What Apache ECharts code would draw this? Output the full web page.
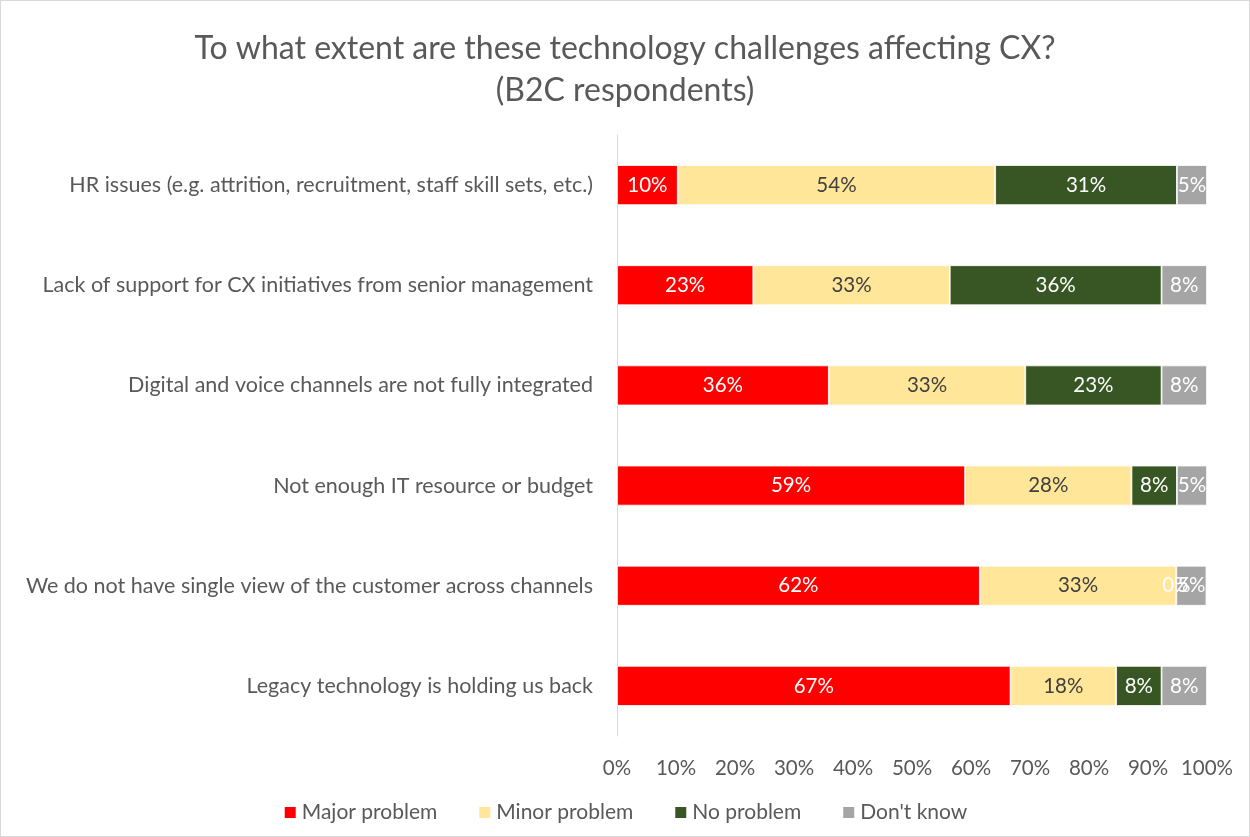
<!DOCTYPE html>
<html>
<head>
<meta charset="utf-8">
<script src="https://cdn.jsdelivr.net/npm/echarts@6/dist/echarts.min.js"></script>
<style>
html,body{margin:0;padding:0;background:#fff;}
#c{width:1248px;height:835px;border:1px solid #d9d9d9;}
</style>
</head>
<body>
<div id="c"></div>
<script>
var categories = [
  "Legacy technology is holding us back",
  "We do not have single view of the customer across channels",
  "Not enough IT resource or budget",
  "Digital and voice channels are not fully integrated",
  "Lack of support for CX initiatives from senior management",
  "HR issues (e.g. attrition, recruitment, staff skill sets, etc.)"
];
var seriesNames = ["Major problem", "Minor problem", "No problem", "Don't know"];
var majorProblem = [66.7, 61.5, 59.0, 35.9, 23.1, 10.3];
var minorProblem = [17.9, 33.3, 28.2, 33.3, 33.3, 53.8];
var noProblem    = [7.7, 0.0, 7.7, 23.1, 35.9, 30.8];
var dontKnow     = [7.7, 5.1, 5.1, 7.7, 7.7, 5.1];
var xTicks = [0, 10, 20, 30, 40, 50, 60, 70, 80, 90, 100];

var FONT = "Lato";
var colors = ["#ff0000", "#ffe699", "#375623", "#a5a5a5"];
var labelColors = ["#ffffff", "#404040", "#ffffff", "#ffffff"];
var dataSets = [majorProblem, minorProblem, noProblem, dontKnow];

var series = seriesNames.map(function (name, i) {
  return {
    name: name,
    type: 'bar',
    stack: 'total',
    barWidth: 40,
    data: dataSets[i],
    itemStyle: { color: colors[i], borderColor: '#ffffff', borderWidth: 0.8 },
    label: {
      show: true,
      position: 'inside',
      color: labelColors[i],
      fontFamily: FONT,
      fontSize: 20.5,
      formatter: function (p) { return Math.round(p.value) + '%'; }
    },
    emphasis: { disabled: true }
  };
});

var chart = echarts.init(document.getElementById('c'), null, { renderer: 'canvas' });
chart.setOption({
  animation: false,
  backgroundColor: '#ffffff',
  title: {
    text: 'To what extent are these technology challenges affecting CX?\n(B2C respondents)',
    left: 'center',
    top: 22,
    textStyle: { fontFamily: FONT, fontSize: 32, fontWeight: 'normal', color: '#595959', lineHeight: 42, align: 'center' }
  },
  legend: {
    bottom: 8,
    left: 'center',
    itemWidth: 13,
    itemHeight: 13,
    itemGap: 40,
    icon: 'rect',
    textStyle: { fontFamily: FONT, fontSize: 21, color: '#595959' },
    data: seriesNames
  },
  grid: { left: 616, right: 42, top: 134, bottom: 100, containLabel: false },
  xAxis: {
    type: 'value',
    min: 0,
    max: 100,
    interval: 10,
    axisLine: { show: false },
    axisTick: { show: false },
    splitLine: { show: false },
    axisLabel: {
      fontFamily: FONT, fontSize: 20.5, color: '#595959', margin: 22,
      formatter: function (v) { return xTicks.indexOf(v) >= 0 ? v + '%' : ''; }
    }
  },
  yAxis: {
    type: 'category',
    data: categories,
    axisLine: { show: true, lineStyle: { color: '#d9d9d9', width: 1 } },
    axisTick: { show: false },
    axisLabel: { fontFamily: FONT, fontSize: 21.5, color: '#595959', margin: 24 }
  },
  series: series
});
</script>
</body>
</html>
